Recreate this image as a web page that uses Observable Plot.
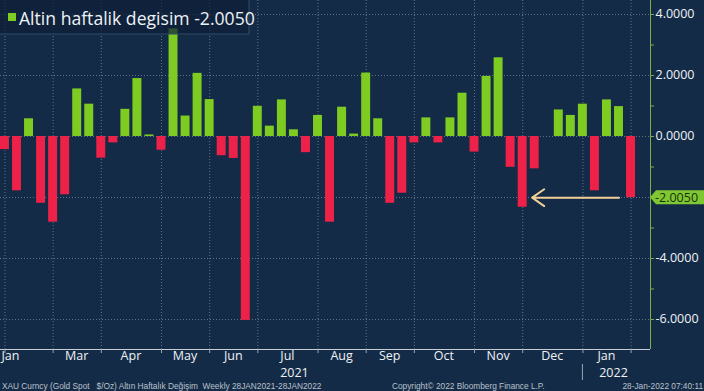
<!DOCTYPE html>
<html><head><meta charset="utf-8">
<script src="https://cdn.jsdelivr.net/npm/d3@7"></script>
<script src="https://cdn.jsdelivr.net/npm/@observablehq/plot@0.6"></script>
<style>
html,body{margin:0;padding:0;background:#142b47;}
#chart{width:704px;height:391px;overflow:hidden;}
svg{display:block;}
</style></head><body><div id="chart"></div>
<script>
// ---- data ----
const firstWeek = "2021-01-29";
const weeklyChange = [
  -0.43, -1.78, 0.58, -2.19, -2.81, -1.91, 1.56, 1.06, -0.71, -0.21,
  0.89, 1.90, 0.05, -0.45, 3.53, 0.67, 2.07, 1.21, -0.63, -0.72,
  -6.03, 0.99, 0.34, 1.20, 0.22, -0.53, 0.69, -2.81, 0.96, 0.08,
  2.08, 0.58, -2.19, -1.86, -0.21, 0.61, -0.21, 0.61, 1.42, -0.51,
  1.97, 2.58, -1.01, -2.32, -1.06, 0.00, 0.87, 0.69, 1.06, -1.78,
  1.20, 0.98, -2.005
];
const yTicks = [-6, -4, -2, 0, 2, 4];
const yMinorTicks = [-5, -3, -1, 1, 3];
const monthLabels = ["Jan", "Mar", "Apr", "May", "Jun", "Jul", "Aug", "Sep", "Oct", "Nov", "Dec", "Jan"];
const yearLabels = ["2021", "2022"];
const yearLabelMonths = [5, 11]; // index into monthLabels (Jul, Jan)
const lastValue = -2.005;
const lastValueText = "-2.0050";
const legendText = "Altin haftalik degisim -2.0050";
const footerSource = "XAU Curncy (Gold Spot   $/Oz) Altın Haftalık Değişim  Weekly 28JAN2021-28JAN2022";
const footerCopyright = "Copyright\u00A9 2022 Bloomberg Finance L.P.";
const footerStamp = "28-Jan-2022 07:40:11";
const arrowFrom = "2022-01-21";
const arrowTo = "2021-12-01T12:00";

// ---- styles ----
const bg = "#142b47";
const green = "#7ecb22";
const red = "#ee2148";
const axisGreen = "#7fae4a";
const gridColor = "rgba(190,205,220,0.45)";
const textColor = "#eef2f6";
const footColor = "#b9c2cc";
const font = "'Open Sans', 'DejaVu Sans', sans-serif";

const dates = weeklyChange.map((v, i) => d3.utcDay.offset(new Date(firstWeek), 7 * i));
const data = weeklyChange.map((v, i) => ({date: dates[i], value: v}));
const half = 2.6; // half bar width in days
const gridDates = dates.filter((d, i) => i === dates.length - 1 || dates[i + 1].getUTCMonth() !== d.getUTCMonth());
const labelData = monthLabels.map((t, k) => k === 0
  ? {date: gridDates[0], text: t, anchor: "start"}
  : {date: new Date((+gridDates[k] + +gridDates[k + 1]) / 2), text: t, anchor: "middle"});
const yearData = yearLabels.map((t, i) => ({date: labelData[yearLabelMonths[i]].date, text: t}));

const xDomain = [new Date(Date.UTC(2021, 0, 26, 9, 13)), new Date(Date.UTC(2022, 1, 8, 7, 0))];
const yDomain = [-6.984, 4.459];

const plot = Plot.plot({
  width: 704, height: 391,
  marginLeft: 0, marginRight: 54, marginTop: 0, marginBottom: 42,
  style: {background: bg, color: textColor, fontFamily: font, overflow: "visible"},
  x: {type: "utc", domain: xDomain, axis: null},
  y: {domain: yDomain, axis: null, label: null},
  marks: [
    Plot.ruleY(yTicks, {stroke: gridColor, strokeDasharray: "1,2"}),
    Plot.ruleX(gridDates, {stroke: gridColor, strokeDasharray: "1,2"}),
    Plot.rectY(data.filter(d => d.value >= 0), {
      x1: d => d3.utcHour.offset(d.date, -half * 24), x2: d => d3.utcHour.offset(d.date, half * 24),
      y: "value", fill: green
    }),
    Plot.rectY(data.filter(d => d.value < 0), {
      x1: d => d3.utcHour.offset(d.date, -half * 24), x2: d => d3.utcHour.offset(d.date, half * 24),
      y: "value", fill: red
    }),
    Plot.arrow([{x1: new Date(arrowFrom), x2: new Date(arrowTo), y: lastValue}], {
      x1: "x1", x2: "x2", y1: "y", y2: "y", stroke: "#f1cf98", strokeWidth: 2, headLength: 11, headAngle: 70
    }),
    Plot.ruleY([yDomain[0]], {stroke: "#c9ced4", strokeWidth: 1}),
    Plot.ruleX([xDomain[1]], {stroke: axisGreen, strokeWidth: 1}),
    Plot.axisX(gridDates, {tickSize: 4, tickFormat: () => "", stroke: "#9aa6b2", label: null}),
    Plot.axisY(yTicks, {anchor: "right", tickSize: 3, tickPadding: 2, tickFormat: d => d.toFixed(4),
      stroke: axisGreen, fill: textColor, fontSize: 12.5, label: null}),
    Plot.axisY(yMinorTicks, {anchor: "right", tickSize: 3, tickFormat: () => "", stroke: axisGreen, label: null})
  ]
});
document.getElementById("chart").appendChild(plot);

// ---- texts and annotations positioned through the plot's scales ----
const svg = d3.select(plot);
const sx = plot.scale("x"), sy = plot.scale("y");
const xr = sx.apply(xDomain[1]);
const yb = sy.apply(yDomain[0]);
const cy = sy.apply(lastValue);

const lbl = svg.append("g").attr("font-family", font).attr("font-size", 12.5).attr("fill", textColor);
labelData.forEach(d => {
  lbl.append("text").attr("x", sx.apply(d.date) + (d.anchor === "start" ? -3 : 0)).attr("y", yb + 11)
    .attr("text-anchor", d.anchor).text(d.text);
});
yearData.forEach(d => {
  lbl.append("text").attr("x", sx.apply(d.date) + 7).attr("y", yb + 28)
    .attr("text-anchor", "middle").text(d.text);
});
// year separator at Dec/Jan boundary
const sepX = sx.apply(gridDates[11]);
svg.append("line").attr("x1", sepX).attr("x2", sepX).attr("y1", yb + 15).attr("y2", yb + 31)
  .attr("stroke", "#9aa6b2").attr("stroke-width", 1);
// footer
const ft = svg.append("g").attr("font-family", "'Liberation Sans', Arial, sans-serif").attr("font-size", 8.3).attr("fill", footColor);
ft.append("text").attr("x", 2).attr("y", 389).attr("text-anchor", "start").text(footerSource);
ft.append("text").attr("x", 392).attr("y", 389).attr("text-anchor", "start").text(footerCopyright);
ft.append("text").attr("x", 703).attr("y", 389).attr("text-anchor", "end").text(footerStamp);
// current value tag
const tag = svg.append("g");
tag.append("path")
  .attr("d", `M${xr},${cy} L${xr + 6},${cy - 7} L704,${cy - 7} L704,${cy + 7} L${xr + 6},${cy + 7} Z`)
  .attr("fill", "#80c832");
tag.append("text").attr("x", xr + 5).attr("y", cy).attr("dy", "0.36em").attr("text-anchor", "start")
  .attr("font-size", 12.5).attr("font-family", font).attr("fill", "#17300f").text(lastValueText);
// legend box
const lg = svg.append("g");
lg.append("rect").attr("x", -1).attr("y", -1).attr("width", 250).attr("height", 35)
  .attr("fill", "rgba(14,32,54,0.7)").attr("stroke", "#2f4a66");
lg.append("rect").attr("x", 8).attr("y", 13).attr("width", 8).attr("height", 8).attr("fill", green);
lg.append("text").attr("x", 19).attr("y", 25).attr("text-anchor", "start").attr("font-size", 17.6).attr("font-family", font)
  .attr("fill", textColor).text(legendText);
</script></body></html>
